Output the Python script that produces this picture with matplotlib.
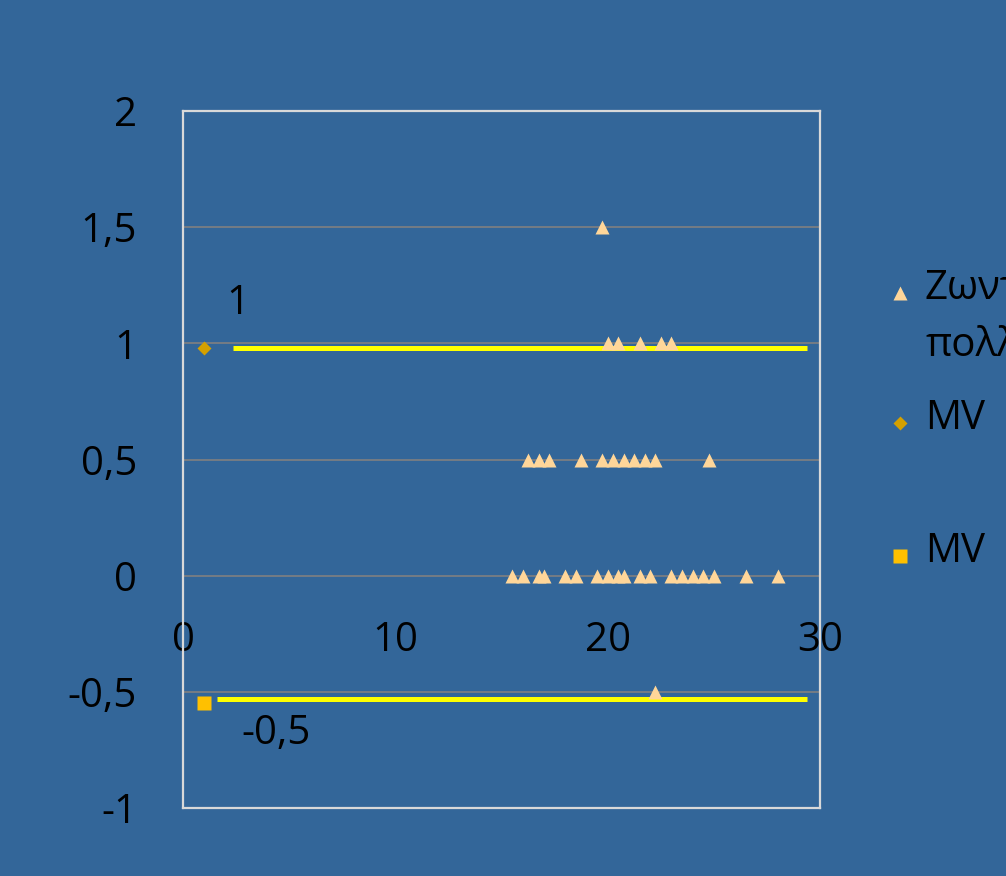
import numpy as np
import matplotlib.pyplot as plt
from matplotlib.lines import Line2D

# data
x_y15 = [19.75]
x_y10 = [20.0, 20.5, 21.5, 22.5, 23.0]
x_y05 = [16.25, 16.75, 17.25, 18.75, 19.75, 20.25, 20.75, 21.25, 21.75, 22.25, 24.75]
x_y00 = [15.5, 16.0, 16.75, 17.0, 18.0, 18.5, 19.5, 20.0, 20.5, 20.75, 21.5, 22.0,
         23.0, 23.5, 24.0, 24.5, 25.0, 26.5, 28.0]
x_ym05 = [22.25]

mv1_x, mv1_y = 1.0, 0.98
mv2_x, mv2_y = 1.0, -0.55
line1 = (2.35, 29.4, 0.98)
line2 = (1.6, 29.4, -0.53)

yticks = [-1, -0.5, 0, 0.5, 1, 1.5, 2]
ytick_labels = ["-1", "-0,5", "0", "0,5", "1", "1,5", "2"]
xticks = [0, 10, 20, 30]
legend_labels = ["Ζωντανά\nπολλαπλά", "MV", "MV"]

bg = "#336699"
tri_col = "#FFD699"
dia_col = "#D4A000"
sq_col = "#FFC000"

plt.rcParams['font.family'] = ['Open Sans', 'DejaVu Sans']

fig = plt.figure(figsize=(10.06, 8.76), dpi=100, facecolor=bg)
ax = fig.add_axes([0.1819, 0.0776, 0.6332, 0.7957], facecolor=bg)

tri_x = x_y15 + x_y10 + x_y05 + x_y00 + x_ym05
tri_y = ([1.5] * len(x_y15) + [1.0] * len(x_y10) + [0.5] * len(x_y05)
         + [0.0] * len(x_y00) + [-0.5] * len(x_ym05))

ax.hlines([line1[2]], line1[0], line1[1], color="#FFFF00", lw=3.6, zorder=3)
ax.hlines([line2[2]], line2[0], line2[1], color="#FFFF00", lw=3.6, zorder=3)
ax.plot(tri_x, tri_y, ls="none", marker="^", ms=10, color=tri_col, mec="none", zorder=4)
ax.plot([mv1_x], [mv1_y], ls="none", marker="D", ms=7.5, color=dia_col, mec="none", zorder=4)
ax.plot([mv2_x], [mv2_y], ls="none", marker="s", ms=10.5, color=sq_col, mec="none", zorder=4)

ax.text(2.6, 1.17, "1", fontsize=29, ha="center", va="center", color="black")
ax.text(4.4, -0.68, "-0,5", fontsize=29, ha="center", va="center", color="black")

ax.set_xlim(0, 30)
ax.set_ylim(-1, 2)
ax.set_yticks(yticks)
ax.set_yticklabels(ytick_labels)
ax.tick_params(axis="y", length=0, pad=33, labelsize=29, labelcolor="black")
ax.set_xticks([])
for y in [-0.5, 0, 0.5, 1, 1.5]:
    ax.axhline(y, color="#808080", lw=1.2, zorder=1)
for s in ax.spines.values():
    s.set_color("#D9D9D9")
    s.set_linewidth(1.6)

sec = ax.secondary_xaxis(1 / 3)
sec.set_xticks(xticks)
sec.set_xticklabels([str(t) for t in xticks])
sec.tick_params(length=0, pad=32, labelsize=29, labelcolor="black")
sec.spines["bottom"].set_visible(False)

# legend, clipped at the right edge like the original
leg_items = [("^", tri_col, 10, 293), ("D", dia_col, 7.5, 423), ("s", sq_col, 10, 556)]
for (m, c, ms, py), lab in zip(leg_items, legend_labels):
    fy = 1 - py / 876
    fig.add_artist(Line2D([900 / 1006], [fy], marker=m, color=c, ms=ms, ls="none",
                          mec="none", transform=fig.transFigure))
    for i, part in enumerate(lab.split("\n")):
        fig.text(925 / 1006, 1 - (py - 4 + 57 * i) / 876, part, fontsize=29,
                 ha="left", va="center", color="black")

plt.savefig("out.png", dpi=100, facecolor=bg)
